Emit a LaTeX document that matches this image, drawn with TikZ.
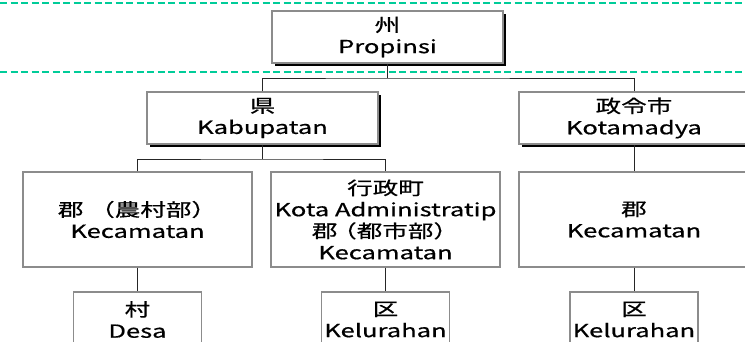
\documentclass[tikz,border=0pt]{standalone}
\usepackage{fontspec}
\setmainfont{Noto Sans CJK JP}[FakeStretch=1.42,FakeBold=0.6]
\usetikzlibrary{shadows}
\definecolor{guidegreen}{HTML}{00CC99}
\definecolor{boxgray}{HTML}{8C8C8C}
\tikzset{
  unitbox/.style={draw=boxgray, line width=1.2pt, fill=white, align=center,
    inner sep=0pt, font=\fontsize{18}{21.5}\selectfont, text=black},
  shadowbox/.style={unitbox, drop shadow={shadow xshift=3pt, shadow yshift=-3pt, fill=black, opacity=1}},
  link/.style={draw=black!85, line width=1pt},
  guide/.style={draw=guidegreen, line width=2pt, dash pattern=on 7pt off 3.5pt}
}
\begin{document}
\begin{tikzpicture}[x=1pt,y=-1pt]
\useasboundingbox (0,0) rectangle (745,341);
\clip (0,0) rectangle (745,341);
% boxes
\node[shadowbox, minimum width=231pt, minimum height=52pt] (prop) at (387.5,37) {州\\Propinsi};
\node[shadowbox, minimum width=231pt, minimum height=52pt] (kab) at (262.5,118) {県\\Kabupatan};
\node[shadowbox, minimum width=230pt, minimum height=52pt] (kota) at (634,118) {政令市\\Kotamadya};
\node[unitbox, minimum width=229pt, minimum height=95pt] (noson) at (137.5,219.5) {郡 （農村部）\\Kecamatan};
\node[unitbox, minimum width=229pt, minimum height=95pt] (gyosei) at (385.5,219.5) {行政町\\Kota Administratip\\郡\kern-0.35em（都市部）\\Kecamatan};
\node[unitbox, minimum width=230pt, minimum height=95pt] (gun) at (634,219.5) {郡\\Kecamatan};
\node[unitbox, minimum width=128pt, minimum height=55pt] (desa) at (137.5,319.5) {村\\Desa};
\node[unitbox, minimum width=128pt, minimum height=55pt] (kel1) at (385.5,319.5) {区\\Kelurahan};
\node[unitbox, minimum width=128pt, minimum height=55pt] (kel2) at (634,319.5) {区\\Kelurahan};
% connectors
\coordinate (j1) at (387.5,78);
\coordinate (j2) at (262.5,159);
\draw[link] (prop.south) -- (j1);
\draw[link] (kab.north) |- (j1) -| (kota.north);
\draw[link] (kab.south) -- (j2);
\draw[link] (noson.north) |- (j2) -| (gyosei.north);
\draw[link] (kota.south) -- (gun.north);
\draw[link] (noson.south) -- (desa.north);
\draw[link] (gyosei.south) -- (kel1.north);
\draw[link] (gun.south) -- (kel2.north);
% guide lines
\coordinate (gl1) at (0,2.5);
\coordinate (gr1) at (745,2.5);
\coordinate (gl2) at (0,72);
\coordinate (gr2) at (745,72);
\draw[guide] (gl1) -- (gr1);
\draw[guide] (gl2) -- (gr2);
\end{tikzpicture}
\end{document}
